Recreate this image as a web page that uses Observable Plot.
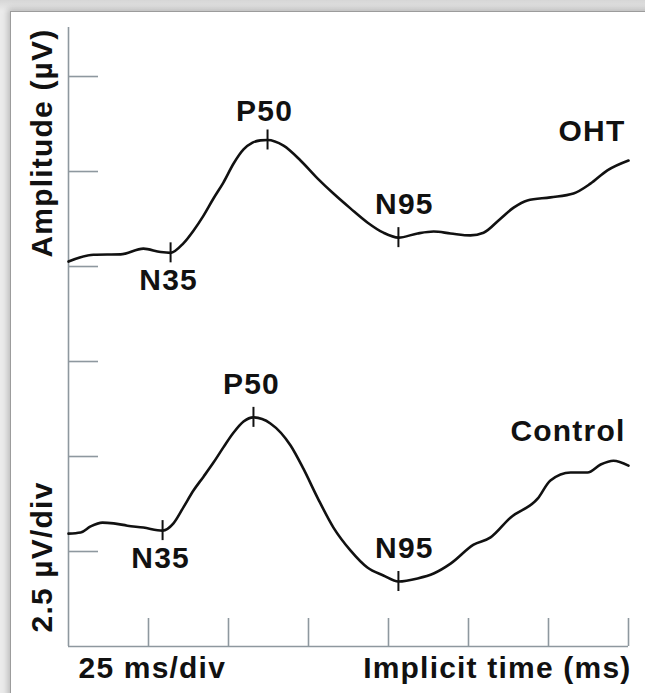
<!DOCTYPE html>
<html><head><meta charset="utf-8">
<script src="https://cdn.jsdelivr.net/npm/d3@7"></script>
<script src="https://cdn.jsdelivr.net/npm/@observablehq/plot@0.6"></script>
<style>
html,body{margin:0;padding:0;}
body{width:645px;height:693px;overflow:hidden;position:relative;background:linear-gradient(to bottom,#d6d6d6,#ebebeb 11px);}
#frame{position:absolute;left:10px;top:11px;width:700px;height:760px;background:#fff;border:1px solid #9c9c9c;box-shadow:-2px -2px 6px rgba(0,0,0,0.22);}
#chart{position:absolute;left:0;top:0;}
</style></head><body><div id="frame"></div><div id="chart"></div>
<script>
// Time in ms (25 ms/div), amplitude in µV (2.5 µV/div), traces offset as drawn
const timeOHT = [0, 7.8, 16.3, 23.4, 28.8, 31.9, 35.9, 39.1, 42.2, 45.3, 48.4, 51.6, 54.7, 57.5, 60, 62.2, 67.2, 72.5, 77.8, 82.8, 88.1, 93.4, 98.4, 103.1, 109.1, 114.1, 119.4, 125.6, 129.7, 135, 139.1, 143.4, 150.6, 157.8, 163.1, 168.4, 175];
const ampOHT = [10.13, 10.31, 10.32, 10.47, 10.38, 10.36, 10.61, 10.95, 11.34, 11.79, 12.21, 12.71, 13.08, 13.26, 13.32, 13.33, 13.18, 12.79, 12.32, 11.92, 11.53, 11.16, 10.89, 10.76, 10.87, 10.92, 10.87, 10.82, 10.89, 11.26, 11.55, 11.74, 11.82, 11.92, 12.18, 12.53, 12.79];
const timeControl = [0, 3.8, 6.9, 10.6, 14.1, 18.4, 23.4, 29.4, 32.8, 35.9, 39.1, 42.2, 45.3, 48.4, 51.6, 54.7, 57.8, 63.1, 69.4, 73.4, 77.8, 82.8, 88.1, 93.4, 98.4, 103.1, 109.1, 114.1, 119.4, 126.6, 131.9, 138.1, 146.6, 150.6, 156.9, 162.2, 166.3, 170.3, 175];
const ampControl = [2.97, 3.0, 3.16, 3.26, 3.24, 3.18, 3.13, 3.05, 3.24, 3.66, 4.11, 4.47, 4.84, 5.24, 5.63, 5.92, 6.03, 5.87, 5.29, 4.68, 3.92, 3.13, 2.53, 2.08, 1.87, 1.71, 1.79, 1.92, 2.18, 2.68, 2.87, 3.39, 3.89, 4.37, 4.58, 4.58, 4.79, 4.89, 4.76];

const peakSeries = ["OHT", "OHT", "OHT", "Control", "Control", "Control"];
const peakNames = ["N35", "P50", "N95", "N35", "P50", "N95"];
const peakTimes = [31.9, 62.2, 103.1, 29.4, 57.8, 103.1];
const peakAmps = [10.36, 13.33, 10.76, 3.05, 6.03, 1.71];

const yTicks = [2.5, 5, 7.5, 10, 12.5, 15];
const xTicks = [25, 50, 75, 100, 125, 150, 175];
const yLabel = "Amplitude (µV)";
const yScaleLabel = "2.5 µV/div";
const xScaleLabel = "25 ms/div";
const xLabel = "Implicit time (ms)";

const traces = [
  ...timeOHT.map((t, i) => ({series: "OHT", t, v: ampOHT[i]})),
  ...timeControl.map((t, i) => ({series: "Control", t, v: ampControl[i]}))
];
const peaks = peakNames.map((name, i) => ({series: peakSeries[i], name, t: peakTimes[i], v: peakAmps[i]}));
const lastOHT = [{t: timeOHT[timeOHT.length - 1], v: ampOHT[ampOHT.length - 1], name: "OHT"}];
const lastControl = [{t: timeControl[timeControl.length - 1], v: ampControl[ampControl.length - 1], name: "Control"}];

const ink = "#111";
const axisColor = "#8e989f";
const font = {fontSize: 30, fontWeight: "bold", fill: ink};

const chart = Plot.plot({
  width: 645,
  height: 693,
  marginLeft: 68,
  marginRight: 17,
  marginTop: 27,
  marginBottom: 47,
  style: "background:transparent;font-family:'Liberation Sans',Arial,sans-serif;letter-spacing:1.2px;overflow:visible;",
  x: {domain: [0, 175], axis: null},
  y: {domain: [0, 16.29], axis: null},
  marks: [
    Plot.ruleX([0], {stroke: axisColor, strokeWidth: 1.6}),
    Plot.ruleY([0], {stroke: axisColor, strokeWidth: 1.6}),
    Plot.tickY(yTicks, {y: d => d, stroke: axisColor, strokeWidth: 1.6, insetRight: 530}),
    Plot.tickX(xTicks, {x: d => d, stroke: axisColor, strokeWidth: 1.6, insetTop: 591}),
    Plot.line(traces, {x: "t", y: "v", z: "series", stroke: ink, strokeWidth: 2.6, curve: "monotone-x"}),
    Plot.ruleX(peaks, {x: "t", y1: "v", y2: "v", insetTop: -10, insetBottom: -10, stroke: ink, strokeWidth: 2}),
    Plot.text(peaks.filter(d => d.name === "N35"), {x: "t", y: "v", text: "name", dy: 28, dx: -2, ...font}),
    Plot.text(peaks.filter(d => d.name === "P50" && d.series === "OHT"), {x: "t", y: "v", text: "name", dy: -29, dx: -3, ...font}),
    Plot.text(peaks.filter(d => d.name === "P50" && d.series === "Control"), {x: "t", y: "v", text: "name", dy: -33, dx: -2, ...font}),
    Plot.text(peaks.filter(d => d.name === "N95"), {x: "t", y: "v", text: "name", dy: -33, dx: 6, ...font}),
    Plot.text(lastOHT, {x: "t", y: "v", text: "name", textAnchor: "end", dy: -29, dx: -3, ...font}),
    Plot.text(lastControl, {x: "t", y: "v", text: "name", textAnchor: "end", dy: -34, dx: -3, ...font}),
    Plot.text([yLabel], {frameAnchor: "top-left", rotate: -90, textAnchor: "end", lineAnchor: "middle", dx: -26, dy: 1, ...font}),
    Plot.text([yScaleLabel], {frameAnchor: "bottom-left", rotate: -90, textAnchor: "start", lineAnchor: "middle", dx: -26, dy: -14, ...font}),
    Plot.text([xScaleLabel], {frameAnchor: "bottom-left", textAnchor: "start", lineAnchor: "bottom", dx: 10, dy: 31, ...font}),
    Plot.text([xLabel], {frameAnchor: "bottom-right", textAnchor: "end", lineAnchor: "bottom", dx: 3, dy: 31, ...font})
  ]
});
document.getElementById("chart").appendChild(chart);
</script>
</body></html>
